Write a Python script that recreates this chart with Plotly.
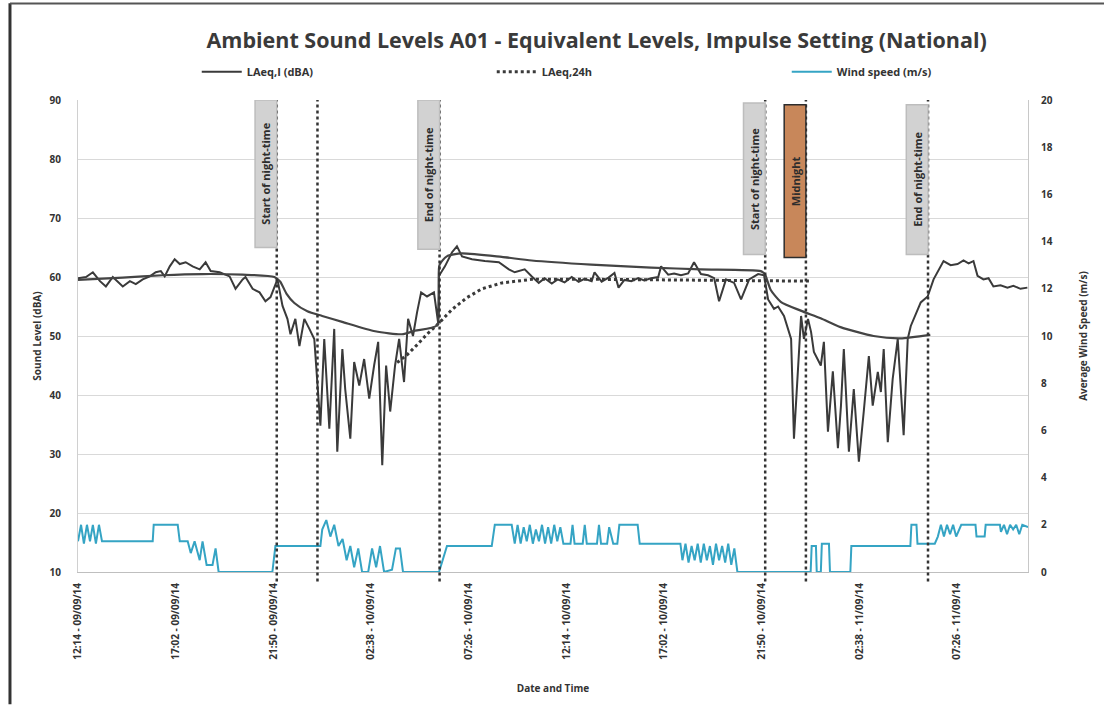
import pandas as pd
import plotly.graph_objects as go

# ---------------- data ----------------
START = "2014-09-09 12:14"

# LAeq,I (dBA) - hours since start / level
laeq_h = [0.00, 0.39, 0.73, 1.08, 1.37, 1.71, 2.20, 2.55, 2.84, 3.18, 3.53, 3.82, 4.07, 4.26, 4.51,
          4.75, 5.00, 5.29, 5.63, 5.98, 6.27, 6.52, 6.96, 7.45, 7.74, 8.09, 8.23, 8.58, 8.92, 9.21,
          9.46, 9.80, 10.05, 10.29, 10.44, 10.68, 10.88, 11.12, 11.37, 11.61, 11.91, 12.10, 12.35,
          12.59, 12.74, 12.99, 13.13, 13.38, 13.57, 13.82, 14.06, 14.31, 14.55, 14.75, 14.95, 15.14,
          15.34, 15.58, 15.78, 16.02, 16.22, 16.46, 16.66, 16.86, 17.15, 17.49, 17.69, 17.74, 18.03,
          18.38, 18.62, 18.87, 19.36, 19.99, 20.68, 21.17, 21.46, 21.95, 22.30, 22.64, 22.93, 23.28,
          23.57, 23.91, 24.26, 24.60, 24.89, 25.24, 25.38, 25.73, 26.07, 26.36, 26.56, 26.85, 27.19,
          27.53, 27.82, 28.16, 28.51, 28.65, 29.00, 29.29, 29.63, 29.98, 30.27, 30.61, 30.96, 31.26,
          31.50, 31.84, 32.24, 32.58, 32.98, 33.42, 33.71, 33.91, 34.20, 34.40, 34.69, 35.04, 35.18,
          35.38, 35.53, 35.67, 35.87, 36.02, 36.16, 36.50, 36.65, 36.85, 37.09, 37.34, 37.49, 37.63,
          37.88, 38.12, 38.37, 38.61, 38.86, 39.05, 39.30, 39.45, 39.59, 39.79, 40.03, 40.28, 40.43,
          40.57, 40.77, 40.92, 41.41, 41.75, 42.04, 42.39, 42.53, 42.88, 43.22, 43.51, 43.76, 44.00,
          44.20, 44.49, 44.74, 44.98, 45.33, 45.67, 45.96, 46.31, 46.65]
laeq_v = [59.8, 60.0, 60.8, 59.3, 58.4, 60.0, 58.4, 59.3, 58.8, 59.6, 60.1, 60.8, 61.0, 60.1, 61.8,
          63.0, 62.2, 62.5, 61.8, 61.3, 62.5, 61.0, 60.8, 60.1, 58.0, 59.6, 60.0, 58.0, 57.4, 55.9,
          56.6, 59.6, 55.1, 52.9, 50.3, 52.9, 48.3, 52.9, 51.2, 49.5, 34.8, 49.5, 34.3,
          51.2, 30.4, 47.8, 41.0, 32.6, 45.6, 41.6, 46.1, 39.4, 45.0, 49.0, 28.1, 45.0,
          37.2, 45.0, 49.5, 42.2, 52.9, 50.0, 54.0, 57.4, 56.7, 57.4, 52.4, 60.2, 61.8,
          64.2, 65.2, 63.5, 63.0, 62.7, 62.5, 61.3, 60.8, 61.3, 60.1, 59.0, 59.8, 58.9,
          59.6, 59.1, 60.0, 59.2, 59.7, 59.3, 60.8, 59.2, 59.9, 60.7, 58.2, 59.5, 59.3,
          59.8, 59.4, 59.8, 60.0, 61.8, 60.4, 60.6, 60.3, 60.6, 62.5, 60.5, 60.3, 59.8,
          55.9, 59.6, 59.0, 56.2, 59.6, 60.5, 60.3, 56.2, 54.6, 55.0, 53.4, 49.5, 32.6,
          43.9, 53.4, 49.5, 52.9, 50.7, 47.3, 45.0, 49.0, 33.8, 44.0, 31.0, 38.2, 47.8,
          30.4, 41.0, 28.7, 37.2, 46.6, 38.2, 43.9, 40.5, 47.8, 32.0, 42.7, 49.5, 41.0,
          33.2, 49.5, 51.7, 55.7, 56.7, 59.6, 61.8, 62.7, 62.0, 62.2, 62.8, 62.3, 62.7,
          60.2, 59.6, 59.8, 58.4, 58.6, 58.2, 58.5, 58.0, 58.2]

# Smoothed trend (solid, not in legend)
trend_h = [0.00, 2.20, 4.16, 6.12, 8.08, 9.65, 9.94, 10.24, 10.63, 11.27, 12.00, 12.98, 14.60, 15.92,
           16.56, 17.64, 17.76, 18.12, 18.86, 20.82, 22.29, 25.22, 28.16, 30.61, 33.55, 33.75, 34.04,
           34.53, 35.51, 36.49, 37.47, 39.09, 40.41, 41.88]
trend_v = [59.5, 59.9, 60.3, 60.5, 60.4, 60.0, 59.2, 57.2, 55.6, 54.2, 53.4, 52.4, 50.8, 50.3,
           50.9, 51.8, 62.0, 63.5, 64.0, 63.4, 62.8, 62.1, 61.6, 61.3, 61.0, 60.5, 57.8,
           55.8, 54.3, 53.0, 51.5, 50.0, 49.6, 50.2]

# LAeq,24h (dotted)
l24_h = [15.68, 16.17, 16.66, 17.15, 17.74, 18.38, 19.11, 19.85, 20.83, 22.30, 25.73, 30.61, 33.57, 36.02]
l24_v = [45.5, 46.8, 48.5, 50.3, 52.2, 54.5, 56.5, 58.0, 59.0, 59.6, 59.6, 59.5, 59.4, 59.3]

# Wind speed (m/s)
wind_h = [0.00, 0.15, 0.29, 0.44, 0.59, 0.73, 0.88, 1.03, 1.18, 3.67, 3.72, 4.90, 5.00, 5.39, 5.54,
          5.73, 5.98, 6.12, 6.32, 6.61, 6.76, 6.91, 9.55, 9.70, 11.91, 12.00, 12.20, 12.40, 12.59,
          12.80, 13.00, 13.20, 13.38, 13.57, 13.77, 13.96, 14.26, 14.45, 14.65, 14.84, 15.04, 15.43,
          15.62, 15.82, 15.97, 17.74, 18.13, 20.33, 20.48, 21.31, 21.46, 21.60, 21.75, 21.90, 22.05,
          22.20, 22.35, 22.50, 22.65, 22.80, 22.95, 23.10, 23.25, 23.40, 23.55, 23.70, 23.85, 24.20,
          24.30, 24.40, 24.80, 24.90, 25.00, 25.50, 25.60, 25.70, 26.00, 26.10, 26.30, 26.50, 26.60,
          27.50, 27.60, 29.60, 29.70, 29.85, 30.00, 30.15, 30.30, 30.45, 30.60, 30.75, 30.90, 31.05,
          31.20, 31.35, 31.50, 31.65, 31.80, 31.95, 32.10, 32.25, 32.40, 36.00, 36.05, 36.26, 36.30,
          36.50, 36.55, 36.90, 36.95, 37.95, 38.00, 40.90, 40.95, 41.20, 41.25, 42.10, 42.25, 42.40,
          42.55, 42.70, 42.85, 43.00, 43.15, 43.40, 44.10, 44.15, 44.55, 44.60, 45.30, 45.35, 45.50,
          45.65, 45.80, 45.95, 46.10, 46.25, 46.40, 46.68]
wind_v = [1.3, 2.0, 1.2, 2.0, 1.3, 2.0, 1.2, 2.0, 1.3, 1.3, 2.0, 2.0, 1.3, 1.3, 0.8,
          1.3, 0.5, 1.3, 0.3, 0.3, 1.0, 0.0, 0.0, 1.1, 1.1, 1.8, 2.2, 1.5, 2.0,
          1.1, 1.4, 0.5, 1.1, 0.2, 1.0, 0.0, 0.0, 1.0, 0.2, 1.1, 0.0, 0.1,
          1.0, 1.0, 0.0, 0.0, 1.1, 1.1, 2.0, 2.0, 1.2, 2.0, 1.2, 1.9, 1.3,
          2.0, 1.2, 1.8, 1.3, 2.0, 1.2, 1.9, 1.2, 2.0, 1.3, 1.9, 1.2, 1.2,
          2.0, 1.2, 1.2, 2.0, 1.2, 1.2, 2.0, 1.2, 1.2, 1.9, 1.2, 1.2, 2.0,
          2.0, 1.2, 1.2, 0.5, 1.2, 0.4, 1.1, 0.5, 1.2, 0.4, 1.2, 0.5, 1.1,
          0.3, 1.2, 0.5, 1.1, 0.4, 1.2, 0.3, 1.0, 0.0, 0.0, 1.1, 1.1, 0.0,
          0.0, 1.2, 1.2, 0.0, 0.0, 1.1, 1.1, 2.0, 2.0, 1.2, 1.2, 1.5, 2.0,
          1.5, 2.0, 1.6, 2.0, 1.5, 2.0, 2.0, 1.5, 1.5, 2.0, 2.0, 1.7, 2.0,
          1.6, 2.0, 1.8, 2.0, 1.6, 2.0, 1.9]

# x-axis tick labels
tick_labels = ["12:14 - 09/09/14", "17:02 - 09/09/14", "21:50 - 09/09/14", "02:38 - 10/09/14",
               "07:26 - 10/09/14", "12:14 - 10/09/14", "17:02 - 10/09/14", "21:50 - 10/09/14",
               "02:38 - 11/09/14", "07:26 - 11/09/14"]

# Period markers (22:00 / 00:00 / 06:00)
event_times = ["2014-09-09 22:00", "2014-09-10 00:00", "2014-09-10 06:00",
               "2014-09-10 22:00", "2014-09-11 00:00", "2014-09-11 06:00"]
event_labels = ["Start of night-time", None, "End of night-time",
                "Start of night-time", "Midnight", "End of night-time"]
event_fill = ["#d2d2d2", None, "#d2d2d2", "#d2d2d2", "#c8875a", "#d2d2d2"]
event_top = [90, None, 90, 89.5, 89.2, 89.2]
event_bottom = [65, None, 64.7, 63.8, 63.3, 63.8]

# ---------------- build ----------------
t0 = pd.Timestamp(START)
def to_time(hours):
    return [t0 + pd.Timedelta(hours=h) for h in hours]

tickvals = [pd.to_datetime(s, format="%H:%M - %d/%m/%y") for s in tick_labels]

fig = go.Figure()
fig.add_trace(go.Scatter(x=to_time(laeq_h), y=laeq_v, mode="lines", name="LAeq,I (dBA)",
                         line=dict(color="#3a3a3a", width=2)))
fig.add_trace(go.Scatter(x=to_time(l24_h), y=l24_v, mode="lines", name="LAeq,24h",
                         line=dict(color="#3a3a3a", width=3, dash="dot")))
fig.add_trace(go.Scatter(x=to_time(wind_h), y=wind_v, mode="lines", name="Wind speed (m/s)",
                         line=dict(color="#35a4c4", width=2), yaxis="y2"))
fig.add_trace(go.Scatter(x=to_time(trend_h), y=trend_v, mode="lines", showlegend=False,
                         line=dict(color="#444444", width=2.2, shape="spline", smoothing=0.6)))

shapes = []
annotations = []
box_len = pd.Timedelta(minutes=64)
for et, lab, fill, top, bottom in zip(event_times, event_labels, event_fill, event_top, event_bottom):
    t = pd.Timestamp(et)
    shapes.append(dict(type="line", xref="x", yref="paper", x0=t, x1=t, y0=-0.02, y1=1,
                       line=dict(color="#333333", width=2.5, dash="dot")))
    if lab:
        shapes.append(dict(type="rect", xref="x", yref="y", x0=t - box_len, x1=t,
                           y0=bottom, y1=top, fillcolor=fill,
                           line=dict(color="#2d2d2d" if fill != "#d2d2d2" else "#bdbdbd", width=1.5),
                           layer="above"))
        annotations.append(dict(x=t - box_len / 2, y=(top + bottom) / 2, xref="x", yref="y",
                                text=lab, textangle=-90, showarrow=False,
                                font=dict(family="Open Sans", size=11, color="#2d2d2d", weight="bold")))

# scanned page border lines
shapes.append(dict(type="line", xref="paper", yref="paper", x0=-0.0716, x1=-0.0716, y0=-0.28, y1=1.205,
                   line=dict(color="#333333", width=3)))
shapes.append(dict(type="line", xref="paper", yref="paper", x0=-0.0716, x1=1.08, y0=1.2046, y1=1.2046,
                   line=dict(color="#555555", width=2)))

fig.update_layout(
    width=1111, height=705,
    margin=dict(l=78, r=83, t=100, b=131),
    paper_bgcolor="white", plot_bgcolor="white",
    font=dict(family="Open Sans", color="#333333", size=10),
    title=dict(text="Ambient Sound Levels A01 - Equivalent Levels, Impulse Setting (National)",
               x=0.537, xanchor="center", y=1 - 40 / 705, yanchor="middle",
               font=dict(family="Open Sans", size=21.5, color="#3a3a3a", weight="bold")),
    legend=dict(orientation="h", x=0.125, xanchor="left", y=1.06, yanchor="middle",
                entrywidth=240, entrywidthmode="pixels", itemwidth=40,
                font=dict(size=11, color="#333333", weight="bold"), bgcolor="rgba(0,0,0,0)"),
    xaxis=dict(range=[t0, t0 + pd.Timedelta(hours=46.68)], tickvals=tickvals, ticktext=tick_labels,
               tickangle=-90, showgrid=False, showline=True, linecolor="#bfbfbf",
               tickfont=dict(size=10, color="#333333", weight="bold"), ticks="",
               ticklabelstandoff=6,
               title=dict(text="Date and Time", font=dict(size=10, weight="bold"), standoff=26)),
    yaxis=dict(range=[10, 90], dtick=10, showgrid=True, gridcolor="#d9d9d9", gridwidth=1,
               showline=True, linecolor="#d0d0d0", zeroline=False, ticklabelstandoff=14,
               tickfont=dict(size=10, color="#333333", weight="bold"),
               title=dict(text="Sound Level (dBA)", font=dict(size=10, weight="bold"), standoff=6)),
    yaxis2=dict(range=[0, 20], dtick=2, overlaying="y", side="right", showgrid=False,
                showline=True, linecolor="#c8c8c8", zeroline=False, ticklabelstandoff=10,
                tickfont=dict(size=10, color="#333333", weight="bold"),
                title=dict(text="Average Wind Speed (m/s)", font=dict(size=10, weight="bold"), standoff=28)),
    shapes=shapes, annotations=annotations,
)

fig.write_html("out.html", config={"displayModeBar": False},
               post_script="document.body.style.margin='0';")
